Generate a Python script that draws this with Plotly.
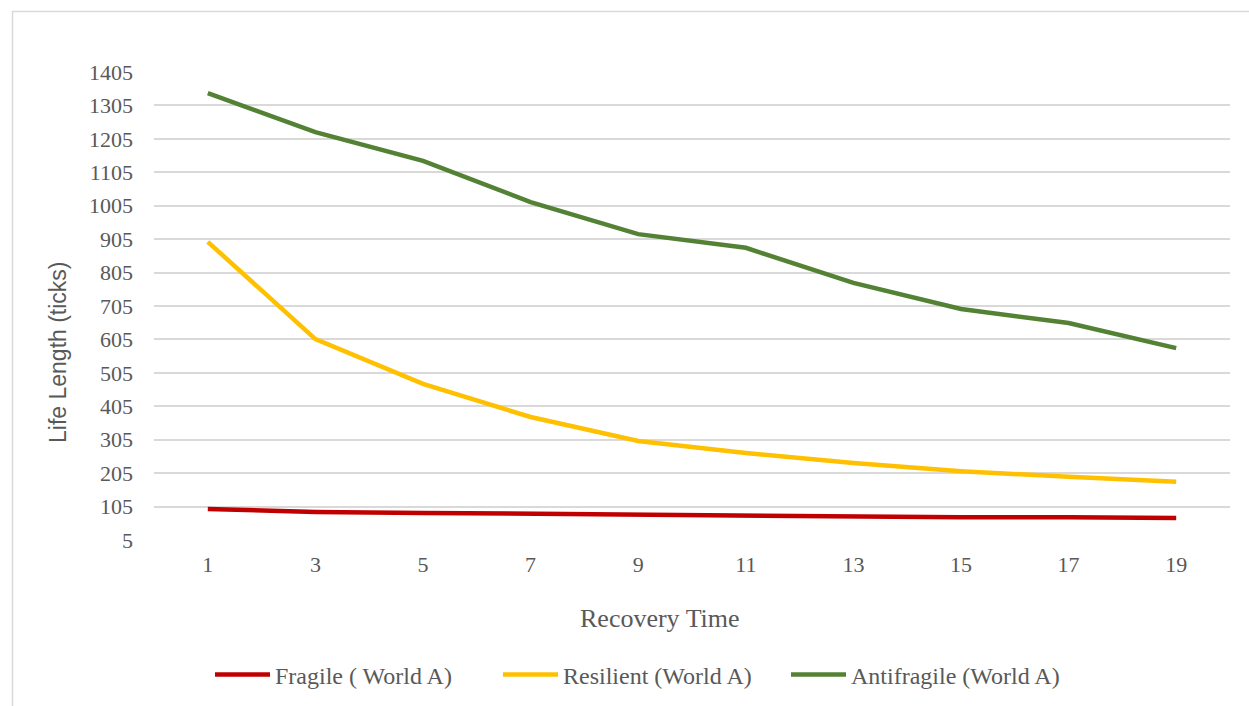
import plotly.graph_objects as go

recovery_time = ["1", "3", "5", "7", "9", "11", "13", "15", "17", "19"]
fragile = [98, 89, 86, 83, 80, 78, 76, 73, 73, 71]
resilient = [897, 606, 472, 373, 301, 265, 235, 211, 194, 179]
antifragile = [1342, 1225, 1139, 1016, 920, 879, 774, 696, 654, 579]
y_ticks = [5, 105, 205, 305, 405, 505, 605, 705, 805, 905, 1005, 1105, 1205, 1305, 1405]

W, H = 1249, 706
L, R, T, B = 154, 19, 72, 166
pw, ph = W - L - R, H - T - B

serif = "Liberation Serif, Times New Roman, serif"
grey = "#595959"

fig = go.Figure()
for name, vals, col in [
    ("Fragile ( World A)", fragile, "#C00000"),
    ("Resilient (World A)", resilient, "#FFC000"),
    ("Antifragile (World A)", antifragile, "#548235"),
]:
    fig.add_trace(go.Scatter(x=recovery_time, y=vals, mode="lines", name=name,
                             line=dict(color=col, width=4.5, shape="linear")))

def px(x):
    return (x - L) / pw

def py(y):
    return 1 - (y - T) / ph

fig.add_shape(type="line", xref="paper", yref="paper", x0=px(12), x1=px(1260), y0=py(11.5), y1=py(11.5),
              line=dict(color="#D9D9D9", width=1.5))
fig.add_shape(type="line", xref="paper", yref="paper", x0=px(12.5), x1=px(12.5), y0=py(11), y1=py(720),
              line=dict(color="#D9D9D9", width=1.5))

fig.add_annotation(text="Life Length (ticks)", xref="paper", yref="paper", x=px(58), y=py(352),
                   xanchor="center", yanchor="middle", textangle=-90, showarrow=False,
                   font=dict(family="Liberation Sans, Arial, sans-serif", size=23, color=grey))
fig.add_annotation(text="Recovery Time", xref="paper", yref="paper", x=px(660), y=py(618),
                   xanchor="center", yanchor="middle", showarrow=False,
                   font=dict(family=serif, size=26, color=grey))

fig.update_layout(
    width=W, height=H,
    margin=dict(l=L, r=R, t=T, b=B, autoexpand=False),
    paper_bgcolor="white", plot_bgcolor="white",
    showlegend=True,
    legend=dict(orientation="h", x=px(210), xanchor="left", y=py(675), yanchor="middle",
                font=dict(family=serif, size=24, color=grey), entrywidth=218, entrywidthmode="pixels",
                itemwidth=55, traceorder="normal"),
    xaxis=dict(type="category", range=[-0.5, 9.5], showgrid=False, showline=False, zeroline=False,
               ticks="", tickfont=dict(family=serif, size=22, color=grey), ticklabelstandoff=9),
    yaxis=dict(range=[5, 1405], tickvals=y_ticks, ticktext=[str(v) for v in y_ticks],
               showgrid=True, gridcolor="#D9D9D9", gridwidth=1.5, zeroline=False, showline=False,
               ticks="", tickfont=dict(family=serif, size=22, color=grey), ticklabelstandoff=20),
)

fig.write_html("out.html")
